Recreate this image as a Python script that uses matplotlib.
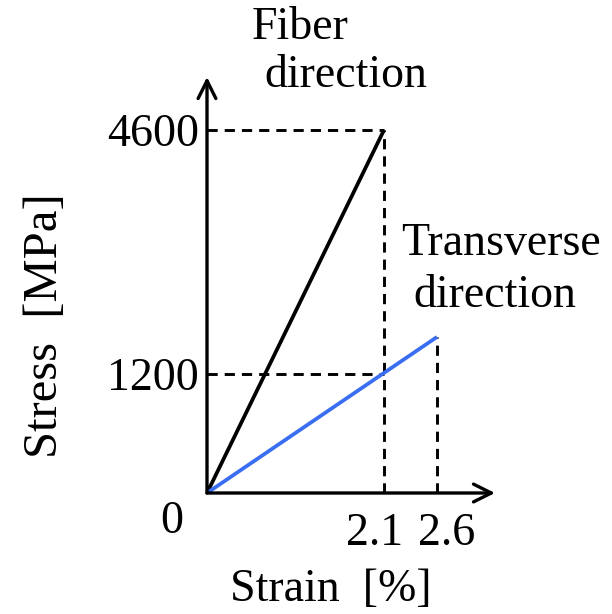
import numpy as np
import matplotlib as mpl
mpl.use('Agg')
import matplotlib.pyplot as plt
from matplotlib.transforms import ScaledTranslation

# values
fiber_strain = [0, 2.1]
fiber_stress = [0, 4600]
trans_strain = [0, 2.6]
trans_stress = [0, 1716]
ref_stress = 1200          # dashed reference level on the transverse line
xtick_vals = [2.1, 2.6]
xtick_labels = ['2.1', '2.6']
ytick_vals = [1200, 4600]
ytick_labels = ['1200', '4600']

plt.rcParams['font.family'] = ['Liberation Serif', 'DejaVu Serif']
FS = 33

# the sketch is not drawn to scale, so use piecewise axis scales
x_anchor = [0, 2.1, 2.6, 3.0]
x_px = [0, 177, 230, 288]
y_anchor = [0, 1200, 4600, 5200]
y_px = [0, 119, 363, 416]

def fwd_x(v):
	return np.interp(v, x_anchor, x_px)
def inv_x(v):
	return np.interp(v, x_px, x_anchor)
def fwd_y(v):
	return np.interp(v, y_anchor, y_px)
def inv_y(v):
	return np.interp(v, y_px, y_anchor)

W, H = 612, 614
fig = plt.figure(figsize=(W/100, H/100), dpi=100)
ax = fig.add_axes([207/W, (H-493)/H, (495-207)/W, (493-77)/H])
ax.set_xscale('function', functions=(fwd_x, inv_x))
ax.set_yscale('function', functions=(fwd_y, inv_y))
ax.set_xlim(0, 3.0)
ax.set_ylim(0, 5200)
for s in ax.spines.values():
	s.set_visible(False)

dash = dict(color='black', lw=2.1, ls=(0, (3.5, 2.4)))
ax.plot([0, fiber_strain[1]], [fiber_stress[1]]*2, **dash)
ax.plot([fiber_strain[1]]*2, [0, fiber_stress[1]], **dash)
ax.plot([0, fiber_strain[1]], [ref_stress]*2, **dash)
ax.plot([trans_strain[1]]*2, [0, trans_stress[1]], **dash)

ax.plot(fiber_strain, fiber_stress, color='black', lw=2.7, solid_capstyle='butt')
ax.plot(trans_strain, trans_stress, color='#3a6ef2', lw=2.7, solid_capstyle='butt')

arrow = dict(arrowstyle='->', lw=2.4, color='black', mutation_scale=32, shrinkA=0, shrinkB=0)
ax.annotate('', xy=(1, 0), xytext=(0, 0), xycoords='axes fraction', arrowprops=arrow)
ax.annotate('', xy=(0, 1), xytext=(0, 0), xycoords='axes fraction', arrowprops=arrow)

ax.set_xticks(xtick_vals)
ax.set_xticklabels(xtick_labels, fontsize=FS)
ax.set_yticks(ytick_vals)
ax.set_yticklabels(ytick_labels, fontsize=FS)
ax.tick_params(length=0)
ax.tick_params(axis='x', pad=14)
ax.tick_params(axis='y', pad=6)
ax.minorticks_off()
# push the two crowded strain labels apart
for lab, dx in zip(ax.get_xticklabels(), [-9, 10]):
	lab.set_transform(lab.get_transform() + ScaledTranslation(dx/100, 0, fig.dpi_scale_trans))

def ftext(x, y, s, size=FS, **kw):
	fig.text(x/W, 1 - y/H, s, fontsize=size, ha='center', va='center', **kw)

ftext(172, 522, '0')
ftext(300, 28, 'Fiber')
ftext(346, 76, 'direction')
ftext(501, 244, 'Transverse')
ftext(495, 296, 'direction')
ftext(331, 590, 'Strain  [%]')
ftext(45, 326, 'Stress  [MPa]', size=35, rotation=90)

fig.savefig('out.png', dpi=100)
